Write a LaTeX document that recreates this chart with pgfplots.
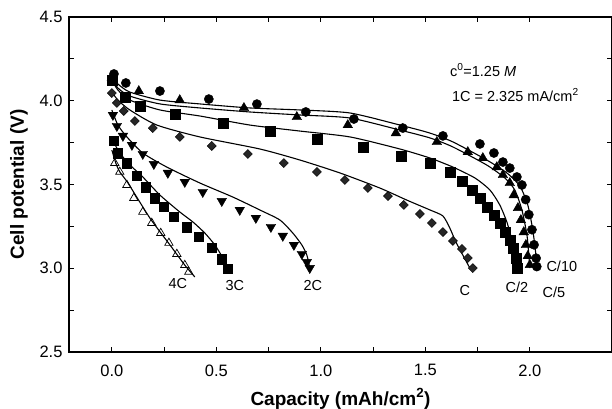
\documentclass[border=0pt]{standalone}
\usepackage{pgfplots}
\pgfplotsset{compat=1.18}
\usepackage{fontspec}
\setmainfont{Liberation Sans}
\begin{document}
\begin{tikzpicture}
\begin{axis}[
  scale only axis, width=543bp, height=335bp,
  xmin=-0.205, xmax=2.393, ymin=2.5, ymax=4.5,
  xtick={0,0.5,1,1.5,2}, minor xtick={0.25,0.75,1.25,1.75},
  ytick={2.5,3,3.5,4,4.5}, minor ytick={2.75,3.25,3.75,4.25},
  tick align=inside, major tick length=5bp, minor tick length=5bp,
  every tick/.style={black, line width=0.8bp},
  axis line style={line width=1.3bp},
  /pgf/number format/assume math mode=true,
  /pgf/number format/.cd, fixed, fixed zerofill, precision=1, /pgfplots/.cd,
  tick label style={font=\fontsize{16.5bp}{19bp}\selectfont},
  xticklabel style={yshift=-9bp},
  yticklabel style={xshift=-3bp},
  xlabel={Capacity (mAh/cm\textsuperscript{2})},
  ylabel={Cell potential (V)},
  label style={font=\bfseries\fontsize{19bp}{22bp}\selectfont, inner sep=0pt},
  x label style={at={(axis description cs:0.5,-0.108)}, anchor=north},
  y label style={at={(axis description cs:-0.092,0.5)}, anchor=center},
  clip=false,
]
% ---- model curves ----
\addplot[black, line width=1.1bp, smooth, tension=0.4] coordinates {
(0,4.148)(0.029,4.100)(0.086,4.052)(0.230,4.004)(0.421,3.981)(0.660,3.957)(0.900,3.945)(1.139,3.927)(1.378,3.855)(1.522,3.807)(1.632,3.754)(1.794,3.646)(1.890,3.569)(1.952,3.491)(1.990,3.378)(2.014,3.228)(2.029,3.079)(2.033,3.001)};
\addplot[black, line width=1.1bp, smooth, tension=0.4] coordinates {
(0,4.130)(0.029,4.076)(0.086,4.028)(0.230,3.981)(0.421,3.957)(0.660,3.933)(0.900,3.915)(1.139,3.897)(1.378,3.825)(1.522,3.778)(1.632,3.724)(1.794,3.616)(1.880,3.539)(1.928,3.467)(1.962,3.348)(1.986,3.199)(1.995,3.079)(2.000,3.001)};
\addplot[black, line width=1.1bp, smooth, tension=0.4] coordinates {
(0,4.124)(0.029,4.064)(0.086,4.004)(0.230,3.945)(0.421,3.909)(0.660,3.855)(0.900,3.819)(1.139,3.784)(1.378,3.712)(1.522,3.658)(1.632,3.604)(1.737,3.539)(1.809,3.467)(1.856,3.378)(1.890,3.276)(1.914,3.169)(1.928,3.079)(1.938,3.001)};
\addplot[black, line width=1.1bp, smooth, tension=0.4] coordinates {
(0,4.052)(0.029,4.004)(0.086,3.945)(0.215,3.855)(0.421,3.784)(0.708,3.712)(0.900,3.646)(1.091,3.569)(1.282,3.479)(1.411,3.407)(1.522,3.348)(1.584,3.312)(1.617,3.240)(1.646,3.157)(1.679,3.079)(1.713,3.001)};
\addplot[black, line width=1.1bp, smooth, tension=0.4] coordinates {
(0,3.945)(0.029,3.855)(0.072,3.784)(0.148,3.688)(0.263,3.604)(0.421,3.509)(0.579,3.425)(0.708,3.348)(0.804,3.288)(0.866,3.210)(0.909,3.139)(0.933,3.079)(0.947,3.001)};
\addplot[black, line width=1.1bp, smooth, tension=0.4] coordinates {
(0,3.778)(0.029,3.706)(0.077,3.628)(0.148,3.545)(0.230,3.437)(0.325,3.336)(0.388,3.276)(0.445,3.210)(0.493,3.139)(0.526,3.073)};
\addplot[black, line width=1.1bp, smooth, tension=0.4] coordinates {
(0,3.706)(0.019,3.628)(0.038,3.575)(0.077,3.509)(0.182,3.300)(0.278,3.139)(0.349,3.019)(0.397,2.948)};
% ---- data ----
% C/10 circles
\addplot[only marks, mark=*, mark size=4.6bp, black] coordinates {
(0.01,4.16)(0.067,4.106)(0.23,4.058)(0.464,4.01)(0.694,3.98)(0.928,3.933)(1.158,3.891)(1.392,3.837)(1.584,3.79)(1.761,3.742)(1.828,3.688)(1.871,3.634)(1.904,3.598)(1.938,3.545)(1.962,3.497)(1.98,3.41)(1.995,3.32)(2.01,3.23)(2.02,3.14)(2.03,3.06)(2.033,3.01)};
% C/5 triangles
\addplot[only marks, mark=triangle*, mark size=5.5bp, black] coordinates {
(0,4.136)(0.129,4.058)(0.325,4.004)(0.632,3.957)(0.885,3.903)(1.129,3.855)(1.359,3.807)(1.555,3.754)(1.703,3.694)(1.775,3.658)(1.842,3.604)(1.871,3.557)(1.904,3.509)(1.923,3.437)(1.943,3.36)(1.957,3.288)(1.971,3.216)(1.981,3.139)(1.99,3.073)(2.0,3.02)};
% C/2 squares
\addplot[only marks, mark=square*, mark size=5bp, black] coordinates {
(0,4.124)(0.062,4.022)(0.134,3.969)(0.301,3.921)(0.531,3.867)(0.756,3.819)(0.981,3.772)(1.201,3.724)(1.383,3.670)(1.522,3.628)(1.617,3.575)(1.675,3.521)(1.722,3.467)(1.761,3.419)(1.794,3.366)(1.828,3.318)(1.856,3.270)(1.880,3.216)(1.904,3.169)(1.919,3.121)(1.933,3.061)(1.938,3.001)};
% C diamonds
\addplot[only marks, mark=square*, mark size=3.2bp, mark options={rotate=45, fill=black!85, draw=black}] coordinates {
(0.0,4.046)(0.024,3.987)(0.057,3.939)(0.110,3.879)(0.196,3.837)(0.325,3.784)(0.478,3.730)(0.651,3.682)(0.823,3.628)(0.981,3.575)(1.115,3.527)(1.225,3.479)(1.321,3.431)(1.397,3.378)(1.474,3.324)(1.531,3.270)(1.584,3.216)(1.632,3.163)(1.675,3.115)(1.703,3.061)(1.727,3.001)};
% 2C inverted triangles
\addplot[only marks, mark=triangle*, mark size=5.5bp, mark options={rotate=180}, black] coordinates {
(0.005,3.915)(0.024,3.849)(0.053,3.790)(0.096,3.736)(0.148,3.682)(0.201,3.622)(0.268,3.569)(0.349,3.515)(0.435,3.455)(0.526,3.401)(0.612,3.348)(0.689,3.300)(0.761,3.246)(0.818,3.193)(0.871,3.139)(0.909,3.085)(0.933,3.037)(0.947,3.001)};
% 3C squares
\addplot[only marks, mark=square*, mark size=4.7bp, black] coordinates {
(0.01,3.760)(0.029,3.688)(0.072,3.628)(0.120,3.551)(0.163,3.485)(0.206,3.419)(0.249,3.366)(0.297,3.306)(0.359,3.246)(0.416,3.187)(0.478,3.121)(0.526,3.055)(0.555,2.996)};
% 4C open triangles
\addplot[only marks, mark=triangle, mark size=4.8bp, mark options={fill=white, line width=0.7bp}, black] coordinates {
(0.014,3.628)(0.038,3.575)(0.072,3.497)(0.105,3.419)(0.148,3.336)(0.191,3.270)(0.234,3.210)(0.273,3.151)(0.311,3.085)(0.349,3.019)(0.368,2.978)};
% ---- labels ----
\begin{scope}[every node/.style={font=\fontsize{14.5bp}{17bp}\selectfont, inner sep=0pt}]
\node at (axis cs:0.316,2.91) {4C};
\node at (axis cs:0.589,2.894) {3C};
\node at (axis cs:0.962,2.894) {2C};
\node at (axis cs:1.689,2.870) {C};
\node at (axis cs:1.938,2.888) {C/2};
\node at (axis cs:2.115,2.858) {C/5};
\node at (axis cs:2.153,3.013) {C/10};
\node[anchor=west] at (axis cs:1.617,4.184) {c\textsuperscript{0}=1.25 \textit{M}};
\node[anchor=west] at (axis cs:1.627,4.034) {1C = 2.325 mA/cm\textsuperscript{2}};
\end{scope}
\end{axis}
\draw[line width=2.2bp] (current axis.north west) -- (current axis.south west) -- (current axis.south east);
\pgfresetboundingbox
\path ([shift={(-69bp,-57bp)}]current axis.south west) rectangle ([shift={(0bp,17bp)}]current axis.north east);
\end{tikzpicture}
\end{document}
